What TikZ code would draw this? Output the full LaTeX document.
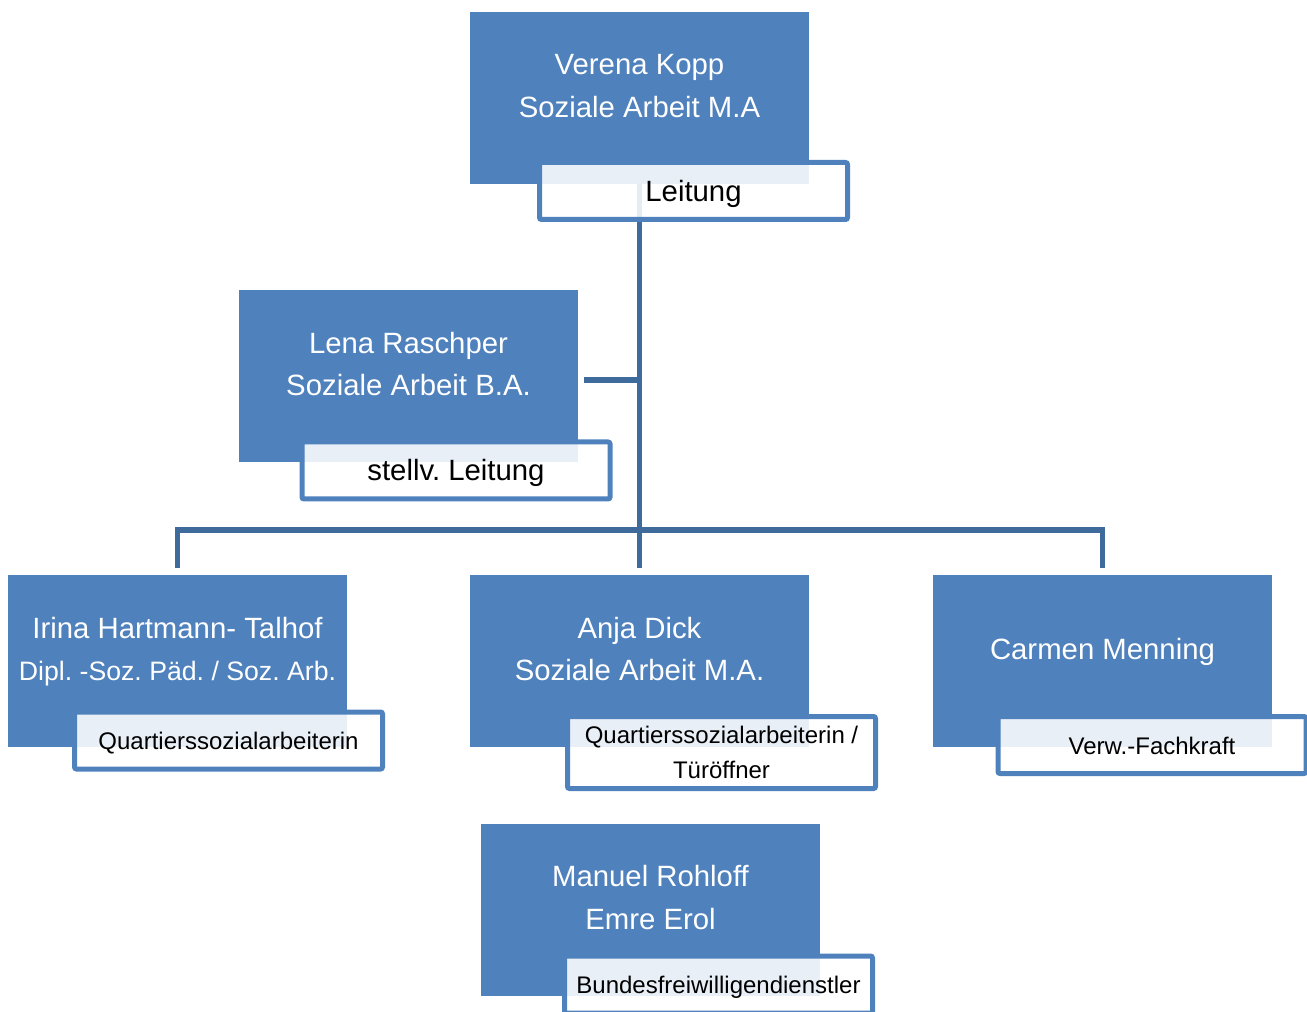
\documentclass[tikz,border=0pt]{standalone}
\usepackage{fontspec}
\setmainfont{Liberation Sans}
\usepackage{xcolor}
\usetikzlibrary{positioning,calc}
\definecolor{boxblue}{HTML}{4F81BD}
\definecolor{linkblue}{HTML}{3E6A9C}

\begin{document}
\begin{tikzpicture}[
  x=0.75pt, y=-0.75pt,
  person/.style={fill=boxblue, minimum width=254.25pt, minimum height=129pt, align=center, text=white, font=\fontsize{22}{32}\selectfont\frenchspacing, text depth=18.2pt},
  rolebox/.style={draw=boxblue, line width=3.75pt, rounded corners=1.5pt, fill=white, fill opacity=0.88, text opacity=1, minimum width=231pt, minimum height=42.75pt, align=center, font=\fontsize{18}{26}\selectfont\frenchspacing},
  role/.style={rolebox, text height=15pt, text depth=1pt},
  bigrole/.style={rolebox, font=\fontsize{22}{32}\selectfont\frenchspacing, text height=20pt, text depth=4.6pt},
  conn/.style={draw=linkblue, line width=4pt}
]
  \useasboundingbox (0,0) rectangle (1307,1012);

  % Leitung (top)
  \node[person] (verena) at (639.5,98) {Verena Kopp\\Soziale Arbeit M.A};

  % stellv. Leitung (assistant)
  \node[person] (lena) at (408.5,376) {Lena Raschper\\Soziale Arbeit B.A.};

  % team row
  \node[person, font=\fontsize{22}{31}\selectfont\frenchspacing] (irina) at (177.5,661) {Irina Hartmann- Talhof\\{\fontsize{20}{31}\selectfont Dipl. -Soz. P\"ad. / Soz. Arb.}};
  \node[person] (anja) at (639.5,661) {Anja Dick\\Soziale Arbeit M.A.};
  \node[person] (carmen) at (1102.5,661) {Carmen Menning};

  % Bufdis (bottom, no connector)
  \node[person] (manuel) at (650.5,909.5) {Manuel Rohloff\\Emre Erol};

  % connectors
  \draw[conn, shorten >=5.25pt] (verena.south) -- (anja.north);
  \draw[conn, shorten <=4.5pt] ([yshift=-3pt]lena.east) -- ([yshift=-3pt]lena.east -| verena.south);
  \coordinate (bus) at (640,530);
  \draw[conn, shorten <=5.25pt, shorten >=5.25pt] (irina.north) |- (bus) -| (carmen.north);

  % role tags, drawn over boxes and lines
  \node[bigrole] (leitung) at (693.5,191) {Leitung};
  \node[bigrole] (stellv) at (456,470.5) {stellv. Leitung};
  \node[role] (irinaR) at (228.5,740.5) {Quartierssozialarbeiterin};
  \node[rolebox, minimum height=54pt] (anjaR) at (721.5,752.5) {Quartierssozialarbeiterin /\\T\"ur\"offner};
  \node[role] (carmenR) at (1152,745) {Verw.-Fachkraft};
  \node[role] (manuelR) at (718.5,984.5) {Bundesfreiwilligendienstler};
\end{tikzpicture}
\end{document}
